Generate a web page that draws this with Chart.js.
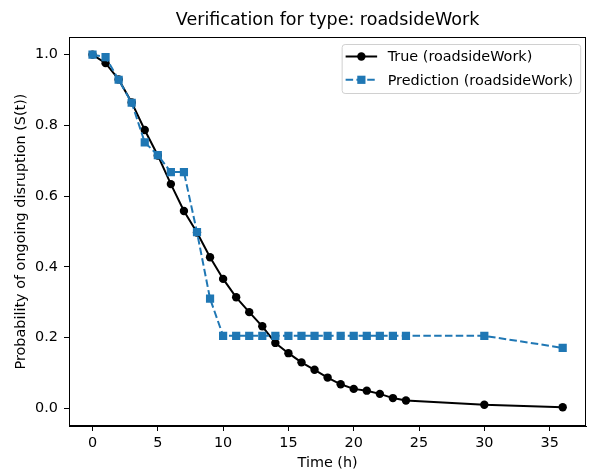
<!DOCTYPE html>
<html>
<head>
<meta charset="utf-8">
<script src="https://cdn.jsdelivr.net/npm/chart.js@4.4.1/dist/chart.umd.min.js"></script>
<style>
  html, body { margin: 0; padding: 0; background: #fff; }
  #wrap { width: 592px; height: 472px; }
</style>
</head>
<body>
<div id="wrap"><canvas id="c" width="592" height="472"></canvas></div>
<script>
// Survival curves for the roadsideWork disruption type
const timesTrue = [0,1,2,3,4,5,6,7,8,9,10,11,12,13,14,15,16,17,18,19,20,21,22,23,24,30,36];
const survivalTrue = [1.0,0.976,0.930,0.865,0.787,0.715,0.634,0.558,0.497,0.427,0.366,0.314,0.272,0.232,0.185,0.156,0.130,0.109,0.087,0.068,0.055,0.050,0.041,0.029,0.022,0.010,0.003];
const timesPred = [0,1,2,3,4,5,6,7,8,9,10,11,12,13,14,15,16,17,18,19,20,21,22,23,24,30,36];
const survivalPred = [1.0,0.993,0.929,0.864,0.752,0.716,0.668,0.668,0.498,0.310,0.205,0.205,0.205,0.205,0.205,0.205,0.205,0.205,0.205,0.205,0.205,0.205,0.205,0.205,0.205,0.205,0.171];
const xTicks = [0,5,10,15,20,25,30,35];
const yTicks = [0.0,0.2,0.4,0.6,0.8,1.0];
const labelTrue = 'True (roadsideWork)';
const labelPred = 'Prediction (roadsideWork)';
const titleText = 'Verification for type: roadsideWork';
const xTitle = 'Time (h)';
const yTitle = 'Probability of ongoing disruption (S(t))';

const FONT = '"DejaVu Sans", Verdana, sans-serif';
const BLUE = '#1f77b4';

const toPoints = (xs, ys) => xs.map((x, i) => ({ x: x, y: ys[i] }));

// Axes frame drawn over the data, like spines
const framePlugin = {
  id: 'frame',
  afterDatasetsDraw(chart) {
    const { ctx, chartArea: a } = chart;
    ctx.save();
    ctx.strokeStyle = '#000';
    ctx.lineWidth = 1;
    ctx.strokeRect(Math.round(a.left) + 0.5, Math.round(a.top) + 0.5,
                   Math.round(a.right - a.left) - 1, Math.round(a.bottom - a.top) - 1);
    ctx.restore();
  }
};

// Legend placed inside the upper-right corner of the plot area
const innerLegend = {
  id: 'innerLegend',
  afterDraw(chart) {
    const { ctx, chartArea: a } = chart;
    const ds = chart.data.datasets;
    ctx.save();
    ctx.font = '14.4px ' + FONT;
    const textW = Math.max(...ds.map(d => ctx.measureText(d.label).width));
    const w = 46 + textW + 7;
    const h = 49;
    const right = a.right - 6;
    const left = right - w;
    const top = a.top + 7;
    ctx.beginPath();
    ctx.roundRect(left + 0.5, top + 0.5, w, h, 3);
    ctx.fillStyle = 'rgba(255,255,255,0.8)';
    ctx.fill();
    ctx.strokeStyle = '#d0d0d0';
    ctx.lineWidth = 1;
    ctx.stroke();
    ds.forEach((d, i) => {
      const y = top + 12.5 + i * 23.3;
      const x1 = left + 4, x2 = left + 35.5, xm = (x1 + x2) / 2;
      ctx.beginPath();
      ctx.setLineDash(d.borderDash || []);
      ctx.strokeStyle = d.borderColor;
      ctx.lineWidth = d.borderWidth;
      ctx.moveTo(x1, y);
      ctx.lineTo(x2, y);
      ctx.stroke();
      ctx.setLineDash([]);
      ctx.fillStyle = d.pointBackgroundColor;
      ctx.beginPath();
      if (d.pointStyle === 'rect') {
        const s = d.pointRadius * Math.SQRT1_2;
        ctx.rect(xm - s, y - s, 2 * s, 2 * s);
      } else {
        ctx.arc(xm, y, d.pointRadius, 0, Math.PI * 2);
      }
      ctx.fill();
      ctx.fillStyle = '#000';
      ctx.textBaseline = 'middle';
      ctx.textAlign = 'left';
      ctx.fillText(d.label, left + 46, y + 1);
    });
    ctx.restore();
  }
};

new Chart(document.getElementById('c'), {
  type: 'line',
  data: {
    datasets: [
      {
        label: labelTrue,
        data: toPoints(timesTrue, survivalTrue),
        borderColor: '#000',
        backgroundColor: '#000',
        borderWidth: 2,
        pointStyle: 'circle',
        pointRadius: 4.2,
        pointBackgroundColor: '#000',
        pointBorderColor: '#000',
        pointBorderWidth: 0,
        tension: 0,
        order: 1
      },
      {
        label: labelPred,
        data: toPoints(timesPred, survivalPred),
        borderColor: BLUE,
        backgroundColor: BLUE,
        borderWidth: 2,
        borderDash: [7.5, 3.3],
        pointStyle: 'rect',
        pointRadius: 5.8,
        pointBackgroundColor: BLUE,
        pointBorderColor: BLUE,
        pointBorderWidth: 0,
        tension: 0,
        order: 0
      }
    ]
  },
  options: {
    responsive: false,
    animation: false,
    devicePixelRatio: 1,
    layout: { padding: { left: 0, right: 3, top: 0, bottom: 0 } },
    plugins: {
      legend: { display: false },
      tooltip: { enabled: false },
      title: {
        display: true,
        text: titleText,
        fullSize: false,
        color: '#000',
        font: { family: FONT, size: 17.5, weight: 'normal', lineHeight: 1.2 },
        padding: { top: 9.5, bottom: 6.5 }
      }
    },
    scales: {
      x: {
        type: 'linear',
        min: -1.8,
        max: 37.8,
        afterBuildTicks: s => { s.ticks = xTicks.map(v => ({ value: v })); },
        afterFit: s => { s.height = 46; },
        ticks: {
          color: '#000',
          font: { family: FONT, size: 14.4 },
          padding: 3.5,
          maxRotation: 0,
          callback: v => String(v)
        },
        grid: { display: true, drawOnChartArea: false, drawTicks: true, tickLength: 5, color: '#000', tickColor: '#000', lineWidth: 1 },
        border: { display: true, color: '#000', width: 1 },
        title: {
          display: true,
          text: xTitle,
          color: '#000',
          font: { family: FONT, size: 14.4, lineHeight: 1.2 },
          padding: { top: 0, bottom: 0.5 }
        }
      },
      y: {
        type: 'linear',
        min: -0.0499,
        max: 1.0499,
        afterBuildTicks: s => { s.ticks = yTicks.map(v => ({ value: v })); },
        afterFit: s => { s.width = 69; },
        ticks: {
          color: '#000',
          font: { family: FONT, size: 14.4 },
          padding: 6,
          callback: v => Number(v).toFixed(1)
        },
        grid: { display: true, drawOnChartArea: false, drawTicks: true, tickLength: 5, color: '#000', tickColor: '#000', lineWidth: 1 },
        border: { display: true, color: '#000', width: 1 },
        title: {
          display: true,
          text: yTitle,
          color: '#000',
          font: { family: FONT, size: 14.4, lineHeight: 1.2 },
          padding: { top: 12.5, bottom: 0 }
        }
      }
    }
  },
  plugins: [framePlugin, innerLegend]
});
</script>
</body>
</html>
